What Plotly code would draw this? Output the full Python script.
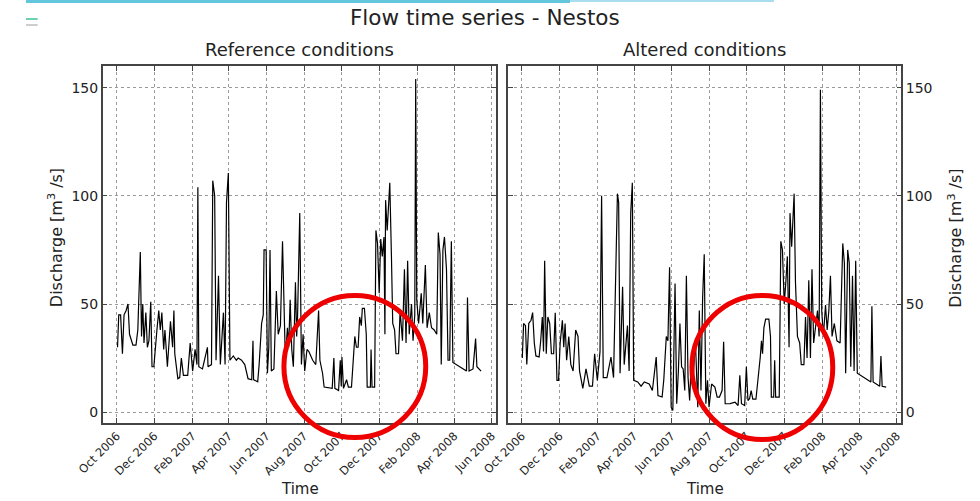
import pandas as pd
import plotly.graph_objects as go

# ---------------- data ----------------
START = "2006-10-01"  # day 0 for the day-offset arrays

ref_days = [1, 3, 6, 9, 11.6, 15, 18, 20.5, 26, 31, 34, 38, 40, 42, 44, 47, 49.5, 52, 55, 57, 60, 62.6, 65, 68,
            70.5, 73, 76, 78, 82, 87, 90.5, 92.6, 94, 99, 102, 104.7, 108, 115, 119, 123, 127, 130, 131.5, 133,
            139, 147, 148, 153.6, 155.7, 158.8, 161, 165, 168, 173, 175.7, 178, 181, 183.6, 189, 194, 197, 202.5,
            207.7, 213, 219, 221, 222, 228.7, 231, 235, 237.7, 239, 242.4, 244.5, 246.7, 248.7, 250.8, 255, 259,
            262, 265.6, 269, 273.5, 277, 279, 281.4, 284, 286.6, 290, 292, 293.4, 297, 299.7, 302.4, 305, 308.7,
            311.8, 318, 323, 327.6, 329.7, 334, 336.6, 349.7, 352.4, 354, 360, 362.8, 364.4, 365.5, 368, 373, 376,
            381, 386.4, 389, 391.8, 394.3, 397, 398.6, 402, 405, 406.5, 411.7, 412.8, 414.4, 418.6, 420.7, 423.3,
            426, 428.5, 431, 433.8, 435.3, 436.4, 439, 440.7, 443.2, 445.9, 448, 451, 453.3, 457.4, 460, 463.8,
            467, 469.6, 472.2, 474.8, 478.5, 481, 483.8, 485.3, 487, 490, 494.3, 496.8, 501, 503.8, 507.4, 511,
            515.3, 519.5, 522, 524.8, 526.8, 529.5, 532, 535.3, 537.8, 540.5, 543.2, 545.7, 567.8, 569.4, 572,
            578.4, 582.6, 584.7, 591.5]
ref_flow = [30, 45, 45, 27, 45, 47, 50, 36, 31, 31, 38, 74, 35, 50, 32, 46, 30, 33, 51, 21, 21, 32, 38, 47,
            38, 46, 29, 38, 21, 42, 30, 47, 27, 15.5, 16, 25, 17, 17, 32, 19, 29, 22, 104, 21,
            20, 30, 21, 22, 107, 100, 24, 63, 22, 46, 22, 97, 110.5, 24, 26, 24, 25, 24,
            22, 15.5, 15, 33, 15, 14, 22, 41, 45, 75, 75, 18, 30, 75, 19, 20, 56,
            36, 40, 79, 25, 39, 30, 52, 29, 21, 60, 35, 44, 92, 22, 36, 19, 29,
            28, 24, 22, 47, 24, 18, 11.6, 11, 25, 11, 10, 24, 12, 25.5, 11, 15, 11.6,
            11.6, 35, 30, 30, 44, 40, 48, 48, 36, 11.6, 11.6, 29, 11.6, 11.6, 84, 78,
            55, 80, 72, 81, 36, 98, 84, 93, 106, 72, 41, 38, 27, 27, 47, 33,
            66, 32, 70, 36, 50, 33, 45, 154, 52, 41, 55, 41, 68, 39, 46, 39,
            38, 36, 83, 73, 22, 75, 81, 66, 24, 24, 79, 23, 19, 53, 19,
            20, 34, 21, 19]

alt_days = [0.5, 2.6, 5.7, 7.8, 11, 14.7, 17.3, 20, 22.6, 27.8, 30.4, 33, 35, 36.8, 39.4, 42, 45, 47.8, 51.4, 54,
            56.8, 59.4, 62, 65.6, 67.8, 70, 72.5, 76, 79.3, 83, 87.2, 91, 93.5, 98.8, 104, 109.3, 114.5, 118,
            122.4, 126.7, 129.3, 132, 138, 144.5, 148.7, 155, 157, 159.3, 163.4, 166, 171.3, 174, 176.6, 179.2,
            181.4, 188, 193.4, 198.7, 206.6, 211.8, 218, 220.8, 227.6, 230.3, 234.4, 237, 239.7, 242.3, 245,
            248.6, 251.3, 254, 256.5, 259.2, 261.8, 264.4, 267, 269.7, 272.3, 275, 278.6, 281.7, 285.5, 288,
            290.7, 293.4, 296, 298.6, 301.3, 303.8, 308, 313.3, 317, 320.7, 325, 327.5, 330, 338, 346, 351,
            353.8, 356.5, 361.7, 364.4, 367, 369.6, 372.2, 374.9, 380, 383.8, 387, 389, 390.7, 392.9, 395.7,
            401, 403.6, 405, 408.8, 410.4, 412, 417.8, 420.4, 423, 425.9, 428.5, 431, 433.8, 435.3, 438, 439.5,
            442, 444.2, 447.4, 451, 453.6, 457.9, 460.5, 463, 465.8, 468.5, 471, 473.7, 477.3, 480, 482.6,
            484.7, 486.8, 489.5, 493, 495.7, 498.4, 501, 503.6, 507.3, 511.5, 516.7, 521, 523.6, 525.7, 529,
            531.5, 534, 536.8, 539.4, 542, 544.6, 566.7, 568.3, 570.3, 581, 583, 585, 591.5]
alt_flow = [25, 41, 40, 22, 41, 42.5, 46, 32, 26, 25.5, 33, 44, 28, 70, 27, 44, 41, 27, 27, 46,
            14.7, 14.7, 32, 42.5, 30, 41, 24, 35, 22, 19, 38, 35, 19, 11, 20, 12, 12, 27,
            14.7, 28, 100, 16, 16, 25.5, 16, 101, 97, 18, 58, 22, 40, 19, 92, 106,
            14.7, 14, 12, 14, 13, 10, 25.5, 7.7, 7, 15, 35, 33, 67, 2.3, 0.8,
            59.5, 3.9, 19, 41, 21, 20, 10, 63, 16, 5.4, 24, 19, 33, 2.3, 47,
            10, 53, 73, 3.9, 14.7, 2.3, 13, 11.6, 7, 7, 10, 32.5, 3.9, 4, 4.6, 3.1,
            17, 3.9, 3.1, 21, 5.4, 6.2, 10, 6, 6, 16, 25.5, 33, 27, 39, 43,
            43, 35, 7, 7, 24, 7, 7, 79, 75, 50, 60, 72, 30, 92, 76.5, 86,
            101, 60, 35, 32, 22, 22, 44, 25, 61, 25, 66, 32, 41, 47, 35,
            149, 47, 35, 49.5, 38, 47, 63, 35, 41, 33, 32, 78, 69, 18, 75,
            69, 21, 63, 19, 70, 18, 14, 49, 14, 12, 26, 12, 11.6]

tick_labels = ["Oct 2006", "Dec 2006", "Feb 2007", "Apr 2007", "Jun 2007", "Aug 2007",
               "Oct 2007", "Dec 2007", "Feb 2008", "Apr 2008", "Jun 2008"]
y_ticks = [0, 50, 100, 150]

# ---------------- build ----------------
t0 = pd.Timestamp(START)
ref_dates = t0 + pd.to_timedelta(ref_days, unit="D")
alt_dates = t0 + pd.to_timedelta(alt_days, unit="D")
tick_vals = pd.to_datetime(tick_labels, format="%b %Y")

W, H = 980, 501
FONT = "DejaVu Sans"

def px_x(p):
    return p / W

def px_y(p):
    return 1 - p / H

fig = go.Figure()
fig.add_trace(go.Scatter(x=ref_dates, y=ref_flow, mode="lines", line=dict(color="black", width=1.2),
                         xaxis="x", yaxis="y", showlegend=False))
fig.add_trace(go.Scatter(x=alt_dates, y=alt_flow, mode="lines", line=dict(color="black", width=1.2),
                         xaxis="x2", yaxis="y2", showlegend=False))

xrange = [pd.Timestamp("2006-09-08"), pd.Timestamp("2008-06-08")]
common_x = dict(range=xrange, tickvals=tick_vals, ticktext=tick_labels, tickangle=-45,
                tickfont=dict(family=FONT, size=11.5, color="#222"),
                showgrid=True, gridcolor="#9a9a9a", griddash="dot", gridwidth=1,
                showline=True, linecolor="#444", linewidth=1.5, mirror="ticks",
                ticks="inside", ticklen=5, tickcolor="#444", zeroline=False)
common_y = dict(range=[-5, 160], tickvals=y_ticks,
                tickfont=dict(family=FONT, size=14, color="#222"),
                showgrid=True, gridcolor="#9a9a9a", griddash="dot", gridwidth=1,
                showline=True, linecolor="#444", linewidth=1.5, mirror="ticks",
                ticks="inside", ticklen=5, tickcolor="#444", zeroline=False)

ydom = [px_y(423), px_y(66)]
fig.update_layout(
    width=W, height=H,
    margin=dict(l=0, r=0, t=0, b=0),
    paper_bgcolor="white", plot_bgcolor="white",
    xaxis=dict(domain=[px_x(79), px_x(484)], anchor="y", **common_x),
    yaxis=dict(domain=ydom, anchor="x", side="left", **common_y),
    xaxis2=dict(domain=[px_x(496), px_x(901)], anchor="y2", **common_x),
    yaxis2=dict(domain=ydom, anchor="x2", side="right", **common_y),
    font=dict(family=FONT, color="#222"),
)

ann = [
    dict(text="Flow time series - Nestos", x=px_x(472), y=px_y(17), size=21.5),
    dict(text="Reference conditions", x=px_x(282), y=px_y(50), size=18),
    dict(text="Altered conditions", x=px_x(698), y=px_y(50), size=18),
    dict(text="Time", x=px_x(282), y=px_y(489), size=15),
    dict(text="Time", x=px_x(699), y=px_y(489), size=15),
]
annotations = [dict(text=a["text"], x=a["x"], y=a["y"], xref="paper", yref="paper",
                    showarrow=False, xanchor="center", yanchor="middle",
                    font=dict(family=FONT, size=a["size"], color="#222")) for a in ann]
for xp in (30, 956):
    annotations.append(dict(text="Discharge [m<sup>3</sup> /s]", x=px_x(xp), y=px_y(238),
                            xref="paper", yref="paper", showarrow=False, textangle=-90,
                            xanchor="center", yanchor="middle",
                            font=dict(family=FONT, size=16, color="#222")))
fig.update_layout(annotations=annotations)

shapes = []
# decorative slide accents at the top
shapes.append(dict(type="rect", xref="paper", yref="paper", x0=0, x1=px_x(560), y0=px_y(3), y1=1,
                   fillcolor="#63c6dc", line=dict(width=0), layer="above"))
shapes.append(dict(type="rect", xref="paper", yref="paper", x0=px_x(560), x1=px_x(770), y0=px_y(2), y1=1,
                   fillcolor="#a9def0", line=dict(width=0), layer="above"))
shapes.append(dict(type="line", xref="paper", yref="paper", x0=0, x1=px_x(12), y0=px_y(19), y1=px_y(19),
                   line=dict(color="#3cc29a", width=1.5)))
shapes.append(dict(type="line", xref="paper", yref="paper", x0=0, x1=px_x(12), y0=px_y(25), y1=px_y(25),
                   line=dict(color="#9a9a9a", width=1)))
# red highlight circles
for (x0, y0, x1, y1) in [(263, 293, 414, 440), (683, 293, 833, 442)]:
    shapes.append(dict(type="circle", xref="paper", yref="paper",
                       x0=px_x(x0 + 2.5), x1=px_x(x1 - 2.5), y0=px_y(y1 - 2.5), y1=px_y(y0 + 2.5),
                       line=dict(color="#ee0000", width=5), layer="above"))
fig.update_layout(shapes=shapes)

fig.write_html("out.html", config={"displayModeBar": False},
               post_script="document.body.style.margin='0';document.body.style.overflow='hidden';")
